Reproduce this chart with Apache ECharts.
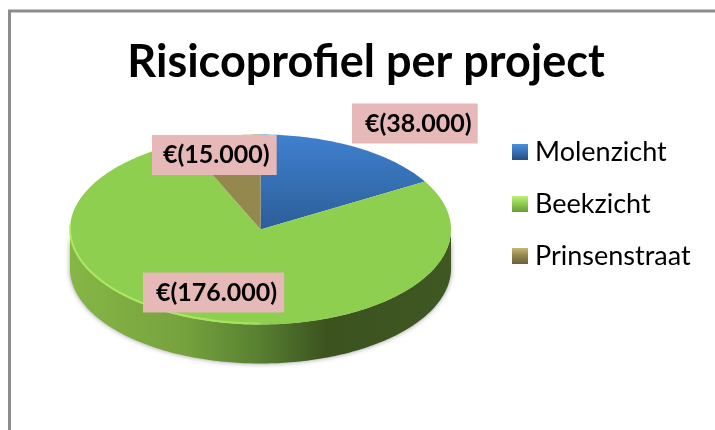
<!DOCTYPE html>
<html>
<head>
<meta charset="utf-8">
<style>html,body{margin:0;padding:0;background:#fff}#c{width:715px;height:430px}</style>
<script src="https://cdn.jsdelivr.net/npm/echarts@6/dist/echarts.min.js"></script>
</head>
<body>
<div id="c"></div>
<script>
const titleText = 'Risicoprofiel per project';
const projects = ['Molenzicht', 'Beekzicht', 'Prinsenstraat'];
const risks = [38000, 176000, 15000];

const CX = 260.5, CY = 229.5, RX = 190.5, RY = 95, DEPTH = 39;
const total = risks.reduce((a, b) => a + b, 0);

function lin(x, y, x2, y2, stops, global) {
  return { type: 'linear', x, y, x2, y2, global: !!global,
    colorStops: stops.map(s => ({ offset: s[0], color: s[1] })) };
}
const topFill = [
  lin(0, 0, 0, 1, [[0, '#3F80CE'], [1, '#2C5E98']]),
  '#8FCF50',
  '#94884F'
];
const legendFill = [
  lin(0, 0, 0, 1, [[0, '#4A90DC'], [0.45, '#3A74BA'], [1, '#234E80']]),
  lin(0, 0, 0, 1, [[0, '#C0F080'], [0.45, '#8FCF50'], [1, '#6A9C38']]),
  lin(0, 0, 0, 1, [[0, '#C4B878'], [0.45, '#94884F'], [1, '#6A6238']])
];
const sideFill = lin(70, 0, 451, 0, [
  [0, '#86B646'], [0.3, '#76A23E'], [0.5, '#577F30'], [0.67, '#3C5320'], [1, '#3F5722']
], true);
const rimFill = lin(70, 0, 300, 0, [
  [0, 'rgba(176,240,100,0.85)'], [0.75, 'rgba(176,240,100,0.7)'], [1, 'rgba(176,240,100,0)']
], true);
const labelBoxes = [
  { x: 352, y: 123.5, pad: [7.5, 6, 7.5, 13] },
  { x: 143, y: 292.5, pad: [7.5, 7, 7.5, 13] },
  { x: 152, y: 155, pad: [7.5, 7, 7.5, 11] }
];

function pt(deg, dy) {
  const r = deg * Math.PI / 180;
  return [CX + RX * Math.sin(r), CY - RY * Math.cos(r) + (dy || 0)];
}
function arc(a, b, dy) {
  const out = [];
  const n = Math.max(2, Math.ceil(Math.abs(b - a)));
  for (let i = 0; i <= n; i++) out.push(pt(a + (b - a) * i / n, dy));
  return out;
}
function span(i) {
  const before = risks.slice(0, i).reduce((a, b) => a + b, 0);
  return [before / total * 360, (before + risks[i]) / total * 360];
}
function money(v) {
  return '€(' + String(v).replace(/\B(?=(\d{3})+$)/g, '.') + ')';
}

function sideItem(i) {
  return function (params, api) {
    const s = span(i), a = Math.max(s[0], 90), b = Math.min(s[1], 270);
    if (b <= a) return { type: 'group', children: [] };
    const pts = arc(a, b, 0).concat(arc(b, a, DEPTH));
    return { type: 'polygon', z2: 1, shape: { points: pts },
      style: { fill: sideFill, shadowBlur: 5, shadowColor: 'rgba(0,0,0,0.4)' } };
  };
}
function topItem(i) {
  return function (params, api) {
    const s = span(i), v = api.value(0);
    const box = labelBoxes[i];
    const kids = [{ type: 'polygon', z2: 2,
      shape: { points: [[CX, CY]].concat(arc(s[0], s[1], 0)) },
      style: { fill: topFill[i] } }];
    const a = Math.max(s[0], 180), b = Math.min(s[1], 272);
    if (b > a) kids.push({ type: 'polyline', z2: 3,
      shape: { points: arc(b, a, -1) },
      style: { fill: null, stroke: rimFill, lineWidth: 2 } });
    kids.push({ type: 'text', z2: 10, x: box.x, y: box.y,
      style: { text: money(v), fill: '#000', align: 'left', verticalAlign: 'middle',
        font: 'bold 25px Lato', backgroundColor: '#E6B8B7',
        padding: box.pad } });
    return { type: 'group', children: kids };
  };
}

const series = [];
projects.forEach((name, i) => series.push({
  type: 'custom', name: name + ' zijkant', coordinateSystem: 'none', silent: true,
  z: 1, animation: false, renderItem: sideItem(i), data: [[risks[i]]]
}));
projects.forEach((name, i) => series.push({
  type: 'custom', name, coordinateSystem: 'none', z: 2, animation: false,
  renderItem: topItem(i), data: [[risks[i]]],
  itemStyle: { color: legendFill[i] }
}));

const chart = echarts.init(document.getElementById('c'), null, { renderer: 'canvas' });
chart.setOption({
  backgroundColor: '#fff',
  animation: false,
  title: {
    text: titleText, left: 361, top: 35, textAlign: 'center',
    textStyle: { fontFamily: 'Lato', fontWeight: 'bold', fontSize: 45, color: '#000' }
  },
  legend: {
    data: projects, orient: 'vertical', left: 512, top: 138, padding: 0,
    itemWidth: 16, itemHeight: 16, itemGap: 24, icon: 'rect',
    textStyle: { fontFamily: 'Lato', fontSize: 27, lineHeight: 28, color: '#000', padding: [0, 0, 0, 2] }
  },
  graphic: [
    { type: 'line', shape: { x1: 8, y1: 11, x2: 715, y2: 11 }, style: { stroke: '#8C8C8C', lineWidth: 3 } },
    { type: 'line', shape: { x1: 9.5, y1: 10, x2: 9.5, y2: 430 }, style: { stroke: '#8C8C8C', lineWidth: 3 } }
  ],
  series
});
</script>
</body>
</html>
